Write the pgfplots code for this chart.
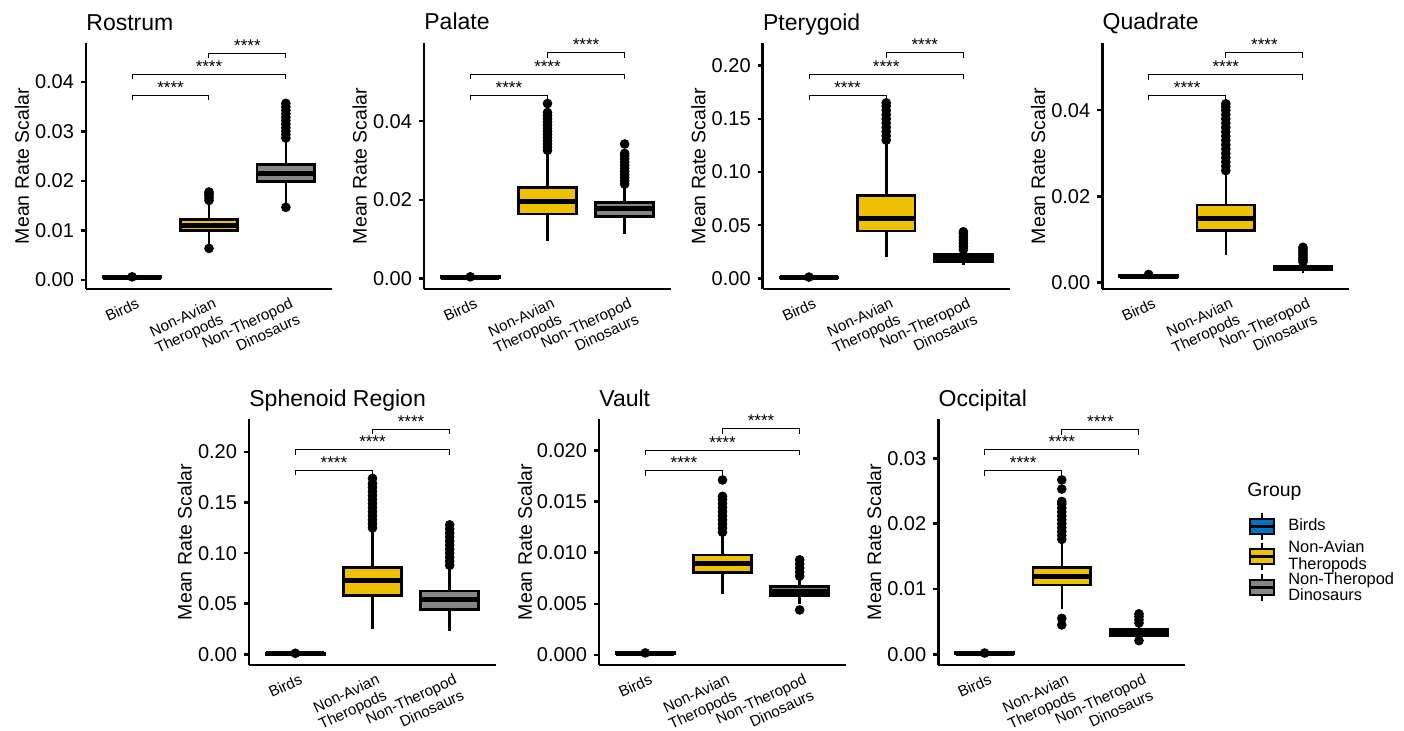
\documentclass[border=0pt]{standalone}
\usepackage{fontspec}
\setmainfont{Liberation Sans}
\usepackage{pgfplots}
\pgfplotsset{compat=1.18}

\definecolor{jcoBlue}{HTML}{0073C2}
\definecolor{jcoYellow}{HTML}{EFC000}
\definecolor{jcoGray}{HTML}{868686}

\pgfplotsset{
  panel/.style={
    scale only axis, width=123.5pt, height=123pt, anchor=south west,
    xmin=0.4, xmax=3.6, clip=false,
    axis x line*=bottom, axis y line*=left,
    axis line style={-, line width=1.25pt, black},
    xtick={1,2,3},
    xticklabels={Birds,{Non-Avian\\Theropods},{Non-Theropod\\Dinosaurs}},
    x tick label style={rotate=25, anchor=north east, align=right,
      font=\fontsize{7.6}{8.6}\selectfont, inner sep=0pt, yshift=-2pt, xshift=1pt},
    xtick style={draw=none},
    ytick style={line width=1.25pt, black},
    tick align=outside, major tick length=2.5pt,
    y tick label style={font=\fontsize{10}{12}\selectfont},
    scaled y ticks=false,
    /pgf/number format/assume math mode=true,
    ylabel={Mean Rate Scalar},
    ylabel style={font=\fontsize{9.75}{11}\selectfont, at={(axis description cs:-0.232,0.5)}, anchor=base},
    title style={font=\fontsize{11.5}{13}\selectfont, at={(axis description cs:0,1)}, anchor=base west, inner sep=0pt, yshift=0.5pt},
  },
}

\newcommand{\setpos}[1]{\ifcase#1\or\def\xl{0.625}\def\xc{1}\def\xr{1.375}\or\def\xl{1.625}\def\xc{2}\def\xr{2.375}\or\def\xl{2.625}\def\xc{3}\def\xr{3.375}\fi}
% position (1,2,3), fill, lower whisker, lower quartile, median, upper quartile, upper whisker, outliers
\newcommand{\bx}[8]{%
  \setpos{#1}%
  \addplot[forget plot, black, line width=1.3pt, mark=none] coordinates {(\xc,#3) (\xc,#4)};
  \addplot[forget plot, black, line width=1.3pt, mark=none] coordinates {(\xc,#6) (\xc,#7)};
  \addplot[forget plot, only marks, mark=*, mark size=2.2pt, mark options={fill=black, draw=black}] coordinates {#8};
  \addplot[forget plot, fill=#2, draw=black, line width=1.35pt, mark=none] coordinates {(\xl,#4) (\xr,#4) (\xr,#6) (\xl,#6)} -- cycle;
  \addplot[forget plot, black, line width=2.4pt, mark=none] coordinates {(\xl,#5) (\xr,#5)};
}
% x1, x2, y, ylow, xmid
\newcommand{\brk}[5]{%
  \addplot[forget plot, black, line width=0.5pt, mark=none] coordinates {(#1,#4) (#1,#3) (#2,#3) (#2,#4)};
  \node[font=\fontsize{8.5}{9}\selectfont, anchor=base, inner sep=0pt, yshift=1pt] at (axis cs:#5,#3) {****};
}

\begin{document}
\begin{tikzpicture}
\path[use as bounding box] (0,0) rectangle (702pt,365pt);

% ---------------- Rostrum
\begin{axis}[panel, at={(43pt,220.5pt)}, width=123pt, title={Rostrum},
  ymin=-0.0018, ymax=0.0479, ytick={0,0.01,0.02,0.03,0.04},
  yticklabels={0.00,0.01,0.02,0.03,0.04}]
\bx{1}{jcoBlue}{0.0003}{0.0004}{0.00055}{0.0007}{0.0008}{(1,0.00065)}
\bx{2}{jcoYellow}{0.0068}{0.0100}{0.0111}{0.0123}{0.0157}{(2,0.0064) (2,0.0161) (2,0.0166) (2,0.0171) (2,0.0175) (2,0.0178)}
\bx{3}{jcoGray}{0.0152}{0.0199}{0.0216}{0.0233}{0.0283}{(3,0.0147) (3,0.0287) (3,0.0294) (3,0.0301) (3,0.0308) (3,0.0315) (3,0.0322) (3,0.0329) (3,0.0336) (3,0.0343) (3,0.0350) (3,0.0357)}
\brk{1}{2}{0.0373}{0.0363}{1.5}
\brk{1}{3}{0.0416}{0.0406}{2}
\brk{2}{3}{0.0458}{0.0448}{2.5}
\end{axis}

% ---------------- Palate
\begin{axis}[panel, at={(212pt,220.5pt)}, title={Palate},
  ymin=-0.0027, ymax=0.0599, ytick={0,0.02,0.04},
  yticklabels={0.00,0.02,0.04}]
\bx{1}{jcoBlue}{0.0000}{0.0002}{0.0003}{0.0005}{0.0007}{(1,0.0004)}
\bx{2}{jcoYellow}{0.0096}{0.0164}{0.0195}{0.0231}{0.0320}{(2,0.0326) (2,0.0334) (2,0.0342) (2,0.0350) (2,0.0358) (2,0.0366) (2,0.0374) (2,0.0382) (2,0.0390) (2,0.0398) (2,0.0406) (2,0.0414) (2,0.0422) (2,0.0445)}
\bx{3}{jcoGray}{0.0113}{0.0158}{0.0177}{0.0193}{0.0235}{(3,0.0240) (3,0.0248) (3,0.0256) (3,0.0264) (3,0.0272) (3,0.0280) (3,0.0288) (3,0.0296) (3,0.0304) (3,0.0312) (3,0.0318) (3,0.0342)}
\brk{1}{2}{0.0466}{0.0453}{1.5}
\brk{1}{3}{0.0520}{0.0507}{2}
\brk{2}{3}{0.0574}{0.0561}{2.5}
\end{axis}

% ---------------- Pterygoid
\begin{axis}[panel, at={(381.35pt,220.5pt)}, title={Pterygoid},
  ymin=-0.0100, ymax=0.2213, ytick={0,0.05,0.10,0.15,0.20},
  yticklabels={0.00,0.05,0.10,0.15,0.20}]
\bx{1}{jcoBlue}{0.0000}{0.0004}{0.0009}{0.0014}{0.0018}{(1,0.0012)}
\bx{2}{jcoYellow}{0.0203}{0.0444}{0.0560}{0.0776}{0.1270}{(2,0.130) (2,0.134) (2,0.138) (2,0.142) (2,0.146) (2,0.150) (2,0.154) (2,0.158) (2,0.162) (2,0.165)}
\bx{3}{jcoGray}{0.0125}{0.0160}{0.0194}{0.0228}{0.0265}{(3,0.0270) (3,0.0300) (3,0.0330) (3,0.0360) (3,0.0390) (3,0.0420) (3,0.0438)}
\brk{1}{2}{0.172}{0.1673}{1.5}
\brk{1}{3}{0.192}{0.1873}{2}
\brk{2}{3}{0.212}{0.2073}{2.5}
\end{axis}

% ---------------- Quadrate
\begin{axis}[panel, at={(551.15pt,220.5pt)}, title={Quadrate},
  ymin=-0.00147, ymax=0.0556, ytick={0,0.02,0.04},
  yticklabels={0.00,0.02,0.04}]
\bx{1}{jcoBlue}{0.0010}{0.0013}{0.0015}{0.0018}{0.0022}{(1,0.0019)}
\bx{2}{jcoYellow}{0.0064}{0.0121}{0.0149}{0.0180}{0.0255}{(2,0.0260) (2,0.0270) (2,0.0280) (2,0.0290) (2,0.0300) (2,0.0310) (2,0.0320) (2,0.0330) (2,0.0340) (2,0.0350) (2,0.0360) (2,0.0370) (2,0.0380) (2,0.0390) (2,0.0400) (2,0.0408) (2,0.0415)}
\bx{3}{jcoGray}{0.0022}{0.0030}{0.0034}{0.0039}{0.0045}{(3,0.0048) (3,0.0053) (3,0.0058) (3,0.0063) (3,0.0068) (3,0.0073) (3,0.0078) (3,0.0082)}
\brk{1}{2}{0.0435}{0.0423}{1.5}
\brk{1}{3}{0.0483}{0.0471}{2}
\brk{2}{3}{0.0533}{0.0521}{2.5}
\end{axis}

% ---------------- Sphenoid Region
\begin{axis}[panel, at={(124.5pt,32.5pt)}, title={Sphenoid Region},
  ymin=-0.0106, ymax=0.2327, ytick={0,0.05,0.10,0.15,0.20},
  yticklabels={0.00,0.05,0.10,0.15,0.20}]
\bx{1}{jcoBlue}{0.0000}{0.0000}{0.0005}{0.0010}{0.0014}{(1,0.0010)}
\bx{2}{jcoYellow}{0.0248}{0.0580}{0.0726}{0.0860}{0.1220}{(2,0.125) (2,0.129) (2,0.133) (2,0.137) (2,0.141) (2,0.145) (2,0.149) (2,0.153) (2,0.157) (2,0.161) (2,0.165) (2,0.169) (2,0.174)}
\bx{3}{jcoGray}{0.0231}{0.0446}{0.0538}{0.0627}{0.0850}{(3,0.088) (3,0.092) (3,0.096) (3,0.100) (3,0.104) (3,0.108) (3,0.112) (3,0.116) (3,0.120) (3,0.124) (3,0.128)}
\brk{1}{2}{0.182}{0.177}{1.5}
\brk{1}{3}{0.2023}{0.1973}{2}
\brk{2}{3}{0.2228}{0.2178}{2.5}
\end{axis}

% ---------------- Vault (values stored x10 to keep TeX dimensions in range; labels show true values)
\begin{axis}[panel, at={(299.5pt,32.5pt)}, title={Vault},
  ylabel style={at={(axis description cs:-0.272,0.5)}},
  ymin=-0.0098, ymax=0.2306, ytick={0,0.05,0.10,0.15,0.20},
  yticklabels={0.000,0.005,0.010,0.015,0.020}]
\bx{1}{jcoBlue}{0.0000}{0.0010}{0.0015}{0.0025}{0.0030}{(1,0.0020)}
\bx{2}{jcoYellow}{0.060}{0.0808}{0.0896}{0.0977}{0.116}{(2,0.120) (2,0.124) (2,0.128) (2,0.132) (2,0.136) (2,0.140) (2,0.144) (2,0.148) (2,0.152) (2,0.155) (2,0.171)}
\bx{3}{jcoGray}{0.050}{0.0580}{0.062}{0.0672}{0.074}{(3,0.044) (3,0.077) (3,0.081) (3,0.085) (3,0.089) (3,0.093)}
\brk{1}{2}{0.180}{0.175}{1.5}
\brk{1}{3}{0.200}{0.195}{2}
\brk{2}{3}{0.221}{0.216}{2.5}
\end{axis}

% ---------------- Occipital (values stored x10; labels show true values)
\begin{axis}[panel, at={(469.15pt,32.5pt)}, title={Occipital},
  ymin=-0.0163, ymax=0.3602, ytick={0,0.1,0.2,0.3},
  yticklabels={0.00,0.01,0.02,0.03},
  legend style={at={(axis description cs:1.256,0.624)}, anchor=north west,
    draw=none, fill=none, inner sep=0pt, outer sep=0pt, row sep=0pt,
    font=\fontsize{8.2}{8.2}\selectfont,
    nodes={inner sep=0pt},
    cells={anchor=west, align=left},
    /tikz/every odd column/.style={column sep=6.5pt}},
  legend image code/.code={
    \draw[black, line width=1.2pt] (5.9pt,-6.75pt) -- (5.9pt,6.75pt);
    \draw[#1, draw=black, line width=1.1pt] (0pt,-3.75pt) rectangle (11.8pt,3.75pt);
    \draw[black, line width=1.6pt] (0pt,0pt) -- (11.8pt,0pt);
  }]
\bx{1}{jcoBlue}{0.0000}{0.0010}{0.0015}{0.0025}{0.0030}{(1,0.0020)}
\bx{2}{jcoYellow}{0.069}{0.106}{0.119}{0.133}{0.172}{(2,0.045) (2,0.055) (2,0.176) (2,0.182) (2,0.188) (2,0.194) (2,0.200) (2,0.206) (2,0.212) (2,0.218) (2,0.224) (2,0.230) (2,0.234) (2,0.253) (2,0.267)}
\bx{3}{jcoGray}{0.026}{0.029}{0.034}{0.038}{0.045}{(3,0.021) (3,0.048) (3,0.053) (3,0.058) (3,0.062)}
\brk{1}{2}{0.281}{0.273}{1.5}
\brk{1}{3}{0.313}{0.305}{2}
\brk{2}{3}{0.344}{0.336}{2.5}
\node[anchor=base west, inner sep=0pt, font=\fontsize{9.7}{11}\selectfont] at (axis description cs:1.250,0.684) {Group};
\addlegendimage{fill=jcoBlue}
\addlegendentry{Birds}
\addlegendimage{fill=jcoYellow}
\addlegendentry{Non-Avian\\Theropods}
\addlegendimage{fill=jcoGray}
\addlegendentry{Non-Theropod\\Dinosaurs}
\end{axis}
\end{tikzpicture}
\end{document}
